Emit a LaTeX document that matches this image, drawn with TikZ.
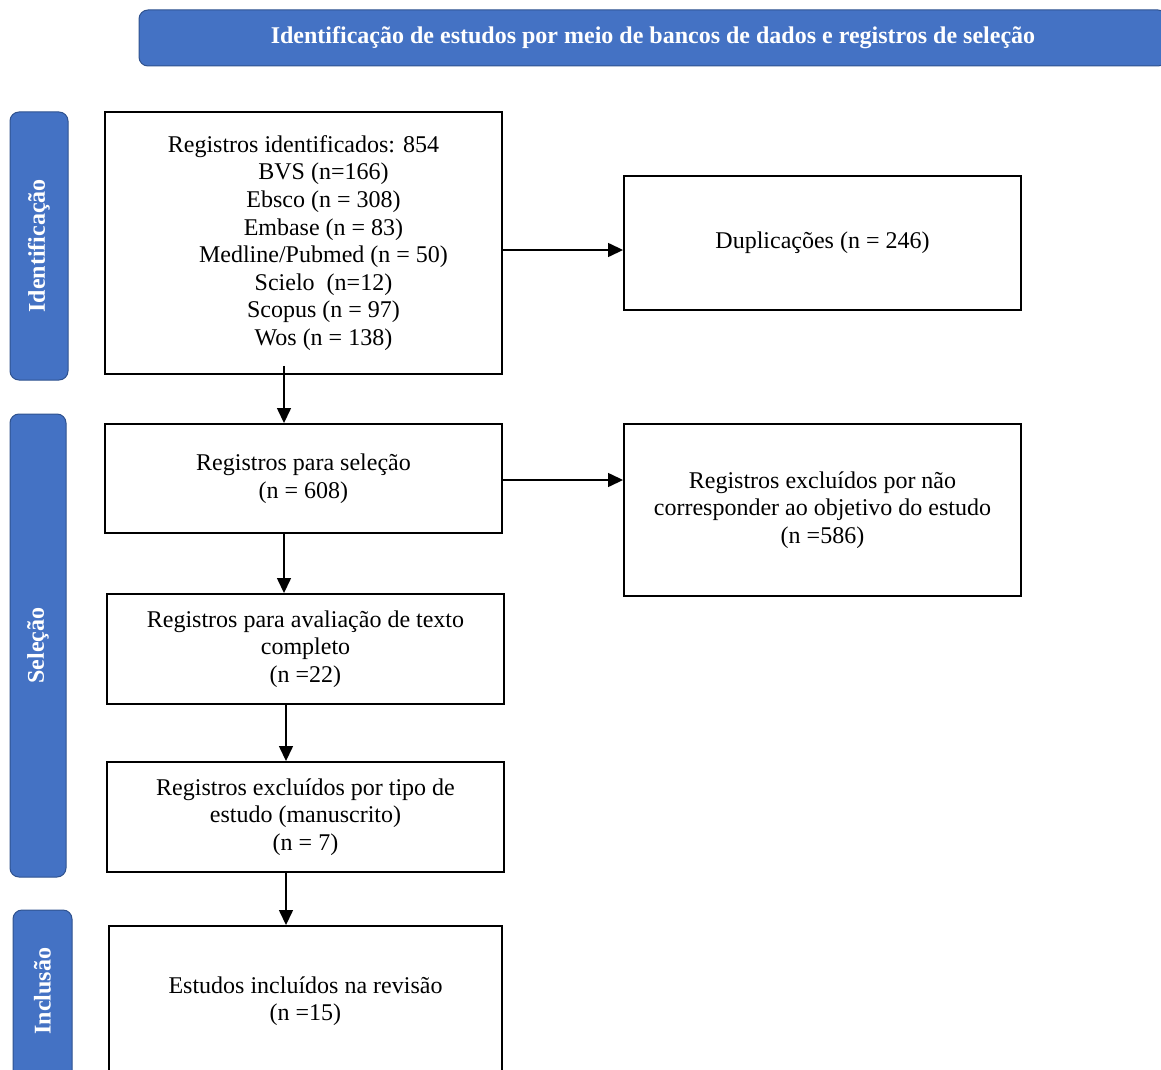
\documentclass[tikz,border=0pt]{standalone}
\usepackage{fontspec}
\setmainfont{Liberation Serif}
\usetikzlibrary{arrows.meta}
\definecolor{barblue}{HTML}{4472C4}
\definecolor{bardark}{HTML}{2F528F}
\tikzset{
  bar/.style={draw=bardark, line width=1pt, fill=barblue, rounded corners=9pt, inner sep=0pt,
    text=white, font=\fontsize{24}{27.6}\selectfont\bfseries},
  flowbox/.style={draw=black, line width=1.9pt, inner sep=0pt, align=center,
    font=\fontsize{24}{27.6}\selectfont},
  arr/.style={line width=1.4pt, -{Triangle[length=15pt,width=14pt]}}
}
\begin{document}
\begin{tikzpicture}[x=1pt,y=-1pt]
\useasboundingbox (0,0) rectangle (1161,1070);
\clip (0,0) rectangle (1161,1070);
% title bar
\node[bar, minimum width=1028pt, minimum height=56pt] (title) at (653,38)
  {Identificação de estudos por meio de bancos de dados e registros de seleção};
% side bars
\node[bar, rotate=90, minimum width=268pt, minimum height=58pt] (sid) at (39,246) {Identificação};
\node[bar, rotate=90, minimum width=463pt, minimum height=56pt] (ssel) at (38,645.5) {Seleção};
\node[bar, rotate=90, minimum width=170pt, minimum height=59pt] (sinc) at (42.5,995) {};
\node[text=white, rotate=90, font=\fontsize{24}{27.6}\selectfont\bfseries] (sinclbl) at (42.5,991) {Inclusão};
% boxes
\node[flowbox, minimum width=397pt, minimum height=262pt] (b1) at (303.5,243)
  {Registros identificados: 854\\
   \hspace*{40pt}BVS (n=166)\\
   \hspace*{40pt}Ebsco (n = 308)\\
   \hspace*{40pt}Embase (n = 83)\\
   \hspace*{40pt}Medline/Pubmed (n = 50)\\
   \hspace*{40pt}Scielo\ \ (n=12)\\
   \hspace*{40pt}Scopus (n = 97)\\
   \hspace*{40pt}Wos (n = 138)};
\node[flowbox, minimum width=397pt, minimum height=134pt] (dup) at (822.5,243)
  {Duplicações (n = 246)};
\node[flowbox, minimum width=397pt, minimum height=109pt] (b2) at (303.5,478.5)
  {Registros para seleção\\(n = 608)};
\node[flowbox, minimum width=397pt, minimum height=172pt] (excl) at (822.5,510)
  {Registros excluídos por não\\corresponder ao objetivo do estudo\\(n =586)};
\node[flowbox, minimum width=397pt, minimum height=110pt] (b3) at (305.5,649)
  {Registros para avaliação de texto\\completo\\(n =22)};
\node[flowbox, minimum width=397pt, minimum height=110pt] (b4) at (305.5,817)
  {Registros excluídos por tipo de\\estudo (manuscrito)\\(n = 7)};
\node[flowbox, minimum width=393pt, minimum height=150pt] (b5) at (305.5,1001)
  {Estudos incluídos na revisão\\(n =15)};
% connectors
\coordinate (colA) at (284,0);
\coordinate (colB) at (286,0);
\coordinate (rowA) at (0,250);
\coordinate (rowB) at (0,480);
\draw[arr] (b1.east |- rowA) -- (dup.west |- rowA);
\draw[arr] (b2.east |- rowB) -- (excl.west |- rowB);
\draw[arr] ([yshift=9pt]b1.south -| colA) -- (b2.north -| colA);
\draw[arr] (b2.south -| colA) -- (b3.north -| colA);
\draw[arr] (b3.south -| colB) -- (b4.north -| colB);
\draw[arr] (b4.south -| colB) -- (b5.north -| colB);
\end{tikzpicture}
\end{document}
